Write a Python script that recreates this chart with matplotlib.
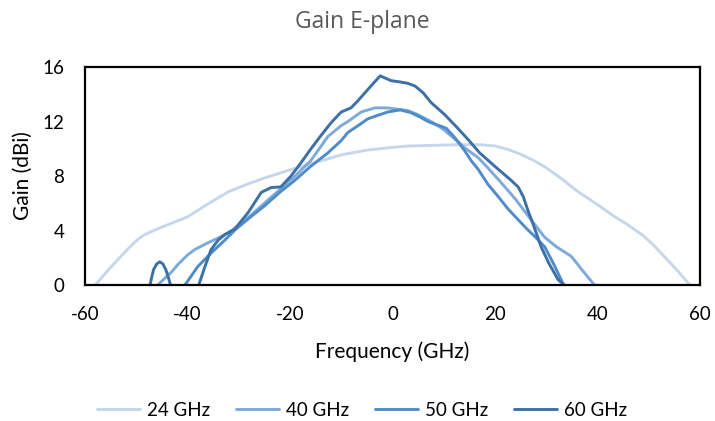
import numpy as np
import matplotlib
matplotlib.use("Agg")
import matplotlib.pyplot as plt

plt.rcParams['font.family'] = ['Lato', 'DejaVu Sans']
plt.rcParams['axes.unicode_minus'] = False

x24 = [-58, -55, -52, -50, -48.8, -47.5, -44, -40, -36, -32, -28, -25, -20, -15, -10, -5, 0, 3, 8, 13,
       17, 20, 22.5, 25, 27.5, 30, 33, 36, 40, 43, 46, 49, 51, 53, 55.5, 58]
y24 = [0, 1.3, 2.5, 3.25, 3.6, 3.85, 4.4, 5.0, 5.95, 6.85, 7.45, 7.85, 8.45, 9.0, 9.55, 9.9, 10.1, 10.2,
       10.25, 10.3, 10.3, 10.2, 9.95, 9.6, 9.15, 8.6, 7.8, 6.9, 5.9, 5.1, 4.4, 3.6, 2.9, 2.1, 1.1, 0]

x40 = [-45.8, -43, -41.9, -40, -38.6, -36, -34, -31.5, -28, -25, -22, -19, -16, -12.6, -10, -8.7,
       -6.1, -3.4, -1, 1, 3, 5, 8, 10, 12.2, 14, 16.7, 18.6, 21, 24, 26.4, 29.7, 32, 34.9, 37, 39.4]
y40 = [0, 1.0, 1.5, 2.2, 2.6, 3.1, 3.45, 3.95, 5.0, 6.0, 7.0, 8.0, 9.1, 10.9, 11.7, 12.0,
       12.7, 13.0, 13.0, 12.9, 12.8, 12.5, 11.9, 11.4, 10.7, 10.1, 9.35, 8.6, 7.6, 6.3, 5.1, 3.5,
       2.8, 2.1, 1.1, 0]

x50 = [-40.5, -38, -35.4, -32.7, -30.7, -28, -25, -22, -19, -16, -12.6, -10, -8.7, -6.5, -4.8,
       -2.5, -0.9, 1.5, 3.6, 5.5, 6.9, 8.3, 9.5, 10.5, 12.2, 14, 15.4, 16.7, 18.6, 20.6, 22.5,
       24.5, 26, 27.8, 29.7, 31.5, 33.4]
y50 = [0, 1.35, 2.35, 3.3, 4.05, 4.9, 5.8, 6.8, 7.7, 8.7, 9.7, 10.6, 11.2, 11.75, 12.2,
       12.5, 12.7, 12.85, 12.65, 12.3, 12.0, 11.8, 11.65, 11.5, 10.8, 9.9, 9.1, 8.5, 7.4, 6.5, 5.6,
       4.8, 4.2, 3.55, 2.8, 1.5, 0]

x60 = [-47.3, -47.0, -46.6, -46.0, -45.4, -44.8, -44.2, -43.7, -43.3, np.nan,
       -37.8, -36.6, -35.4, -34, -32.7, -30.8, -28.2,
       -25.6, -23.7, -21.8, -19.8, -17.8, -15.9, -14, -12, -10, -8.1, -6.8, -5.4, -3.5, -2.4,
       -1.5, -0.3, 1.5, 3, 4.4, 6, 7.5, 10.2, 12.5, 14.7, 17, 20, 23.1, 24.5, 25.5, 26.4, 27.5,
       29, 30.5, 32.3, 33.5]
y60 = [0, 0.55, 1.15, 1.55, 1.7, 1.55, 1.1, 0.5, 0, np.nan,
       0, 1.35, 2.6, 3.3, 3.7, 4.1, 5.3,
       6.8, 7.15, 7.2, 8.0, 9.0, 10.0, 10.95, 11.9, 12.7, 13.0, 13.5, 14.1, 14.9, 15.35,
       15.2, 15.0, 14.9, 14.8, 14.6, 14.1, 13.4, 12.5, 11.6, 10.7, 9.7, 8.7, 7.7, 7.2, 6.5, 5.5, 4.4,
       2.8, 1.6, 0.4, 0]

series = [
    ("24 GHz", x24, y24, "#c6d7ec"),
    ("40 GHz", x40, y40, "#7eaad9"),
    ("50 GHz", x50, y50, "#4f8cca"),
    ("60 GHz", x60, y60, "#3d70a6"),
]

fig = plt.figure(figsize=(7.15, 4.21), dpi=100)
ax = fig.add_axes([85 / 715, 1 - 285 / 421, 615 / 715, 218 / 421])

for label, xs, ys, c in series:
    ax.plot(xs, ys, color=c, lw=2.1, label=label, solid_capstyle='round', solid_joinstyle='round')

ax.set_xlim(-60, 60)
ax.set_ylim(0, 16)
ax.set_xticks(np.arange(-60, 61, 20))
ax.set_yticks(np.arange(0, 17, 4))
ax.tick_params(length=0, labelsize=13.5, colors='#000000')
ax.tick_params(axis='x', pad=15)
ax.tick_params(axis='y', pad=15)
for s in ax.spines.values():
    s.set_linewidth(1.6)
    s.set_color('black')

fig.text(362 / 715, 1 - 22 / 421, "Gain E-plane", fontsize=16.5, color='#595959',
         family=['Open Sans', 'DejaVu Sans'], ha='center', va='center')
ax.set_xlabel("Frequency (GHz)", fontsize=15)
ax.set_ylabel("Gain (dBi)", fontsize=15)
ax.xaxis.set_label_coords(0.5, (285 - 352) / 218)
ax.yaxis.set_label_coords((23 - 85) / 615, 0.5)
ax.xaxis.label.set_va('center')
ax.yaxis.label.set_va('center')

ax.legend(loc='center', bbox_to_anchor=((362 - 85) / 615, (285 - 410) / 218), ncol=4,
          frameon=False, fontsize=13.5, handlelength=2.3, columnspacing=1.4, handletextpad=0.35)

fig.savefig("out.png", dpi=100)
